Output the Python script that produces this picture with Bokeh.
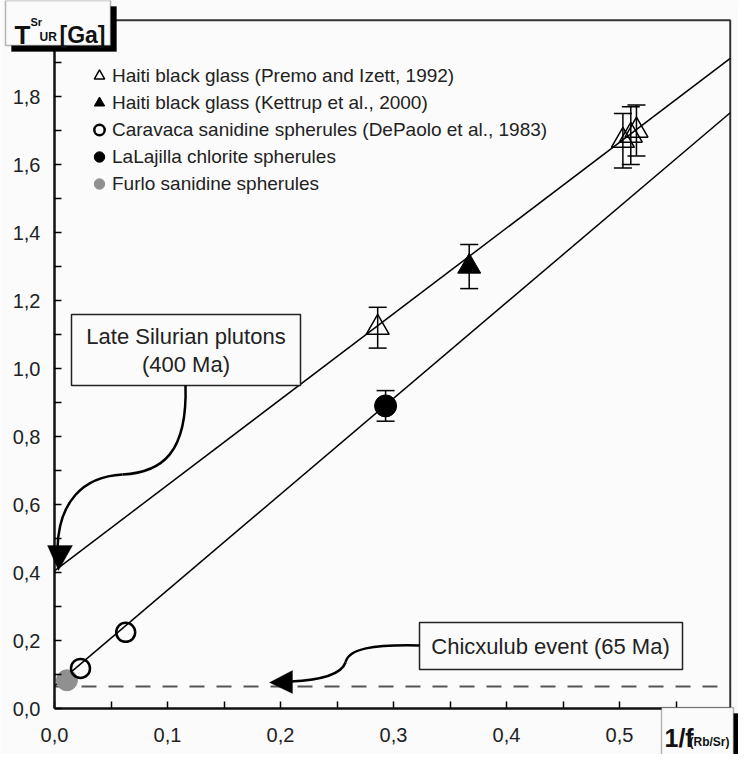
from bokeh.plotting import figure
from bokeh.models import (Range1d, FixedTicker, CustomJSTickFormatter, Whisker, TeeHead,
                          ColumnDataSource, BoxAnnotation, Label, PolyAnnotation,
                          Legend, LegendItem, LinearAxis)
from bokeh.core.properties import value
from bokeh.embed import file_html
from bokeh.resources import INLINE

# ---------------- data ----------------
premo_x = [0.286, 0.503, 0.510, 0.515]
premo_y = [1.12, 1.67, 1.685, 1.70]
premo_err = [0.06, 0.08, 0.085, 0.075]

kettrup_x = [0.367]
kettrup_y = [1.30]
kettrup_err = [0.065]

caravaca_x = [0.023, 0.063]
caravaca_y = [0.118, 0.224]

lalajilla_x = [0.293]
lalajilla_y = [0.89]
lalajilla_err = [0.045]

furlo_x = [0.011]
furlo_y = [0.083]

upper_intercept, upper_slope = 0.405, 2.52
lower_intercept, lower_slope = 0.066, 2.82
chicxulub_age = 0.065

x_max, y_max = 0.598, 2.024
x_ticks = [0.0, 0.1, 0.2, 0.3, 0.4, 0.5]
x_minor = [0.05, 0.15, 0.25, 0.35, 0.45, 0.55]
y_ticks = [0.0, 0.2, 0.4, 0.6, 0.8, 1.0, 1.2, 1.4, 1.6, 1.8]
y_minor = [0.1, 0.3, 0.5, 0.7, 0.9, 1.1, 1.3, 1.5, 1.7, 1.9]

legend_labels = ["Haiti black glass (Premo and Izett, 1992)",
                 "Haiti black glass (Kettrup et al., 2000)",
                 "Caravaca sanidine spherules (DePaolo et al., 1983)",
                 "LaLajilla chlorite spherules",
                 "Furlo sanidine spherules"]

FONT = "Liberation Sans"
TXT = "#222222"
BG = "#fbfbfb"

# helpers converting picture pixel positions of decorations to data coords
def dx(px):
    return (px - 62) / 1130.0

def dy(py):
    return (716 - py) / 340.0

p = figure(width=738, height=754, x_range=Range1d(dx(8), dx(746)), y_range=Range1d(dy(762), dy(8)),
           output_backend="svg", toolbar_location=None,
           x_axis_location=None, y_axis_location=None,
           min_border=0, min_border_left=0, min_border_right=0, min_border_top=0, min_border_bottom=0,
           background_fill_color=BG, border_fill_color=BG)
p.grid.visible = False
p.outline_line_color = None

fmt = CustomJSTickFormatter(code="return tick.toFixed(1).replace('.', ',')")
xa = LinearAxis(fixed_location=0, bounds=(0, x_max))
ya = LinearAxis(fixed_location=0, bounds=(0, y_max))
p.add_layout(xa, "below")
p.add_layout(ya, "left")
for ax, tk, mn in ((xa, x_ticks, x_minor), (ya, y_ticks, y_minor)):
    ax.ticker = FixedTicker(ticks=tk, minor_ticks=mn)
    ax.formatter = fmt
    ax.axis_line_width = 2.5
    ax.axis_line_color = "#111111"
    ax.major_tick_in = 7
    ax.major_tick_out = 0
    ax.minor_tick_in = 7
    ax.minor_tick_out = 0
    ax.major_tick_line_width = 1.5
    ax.minor_tick_line_width = 1.5
    ax.major_label_text_font = FONT
    ax.major_label_text_font_size = "20px"
    ax.major_label_text_color = TXT
xa.major_label_standoff = 19
ya.major_label_standoff = 14

# frame top and right border
p.line([dx(118), x_max, x_max], [y_max, y_max, dy(715)], line_color="#333333", line_width=2)

# isochron lines (from the y axis to the right border)
iso_x = [0, x_max]
p.line(iso_x, [upper_intercept + upper_slope * v for v in iso_x], line_color="black", line_width=1.5)
p.line(iso_x, [lower_intercept + lower_slope * v for v in iso_x], line_color="black", line_width=1.5)

# Chicxulub dashed line
p.line([0, x_max], [chicxulub_age, chicxulub_age], line_color="#555555", line_width=2, line_dash="15 12")

# error bars
def whisk(xs, ys, es):
    src = ColumnDataSource(dict(x=xs, lo=[a - b for a, b in zip(ys, es)], hi=[a + b for a, b in zip(ys, es)]))
    w = Whisker(base="x", lower="lo", upper="hi", source=src, line_width=1.5, line_color="black",
                upper_head=TeeHead(size=18, line_width=1.5), lower_head=TeeHead(size=18, line_width=1.5))
    p.add_layout(w)

whisk(premo_x, premo_y, premo_err)
whisk(kettrup_x, kettrup_y, kettrup_err)
whisk(lalajilla_x, lalajilla_y, lalajilla_err)

r_furlo = p.scatter(furlo_x, furlo_y, marker="circle", size=21, fill_color="#909090", line_color="#909090")
r_car = p.scatter(caravaca_x, caravaca_y, marker="circle", size=19, fill_color=None, line_color="black", line_width=2.5)
r_lal = p.scatter(lalajilla_x, lalajilla_y, marker="circle", size=22, fill_color="black", line_color="black")
r_ket = p.scatter(kettrup_x, kettrup_y, marker="triangle", size=23, fill_color="black", line_color="black")
r_pre = p.scatter(premo_x, premo_y, marker="triangle", size=23, fill_color=None, line_color="black", line_width=1.5)

legend = Legend(items=[LegendItem(label=legend_labels[0], renderers=[r_pre]),
                       LegendItem(label=legend_labels[1], renderers=[r_ket]),
                       LegendItem(label=legend_labels[2], renderers=[r_car]),
                       LegendItem(label=legend_labels[3], renderers=[r_lal]),
                       LegendItem(label=legend_labels[4], renderers=[r_furlo])],
                location=(86, 557), padding=0, spacing=0, glyph_width=26, glyph_height=27,
                label_height=27, label_standoff=0, border_line_color=None,
                background_fill_alpha=0, label_text_font=FONT, label_text_font_size="19px",
                label_text_color=TXT, margin=0)
p.add_layout(legend)

# annotation boxes inside the frame
p.quad(left=[dx(79)], right=[dx(308)], bottom=[dy(393)], top=[dy(322)], fill_color=BG, line_color="#222222", line_width=1.5)
p.quad(left=[dx(427)], right=[dx(690)], bottom=[dy(677)], top=[dy(630)], fill_color=BG, line_color="#222222", line_width=1.5)
p.text(x=[dx(193.5)], y=[dy(358)], text=["Late Silurian plutons\n(400 Ma)"], text_align="center",
       text_baseline="middle", text_font=value(FONT), text_font_size="22px", text_color=TXT,
       text_line_height=1.15)
p.text(x=[dx(558)], y=[dy(654)], text=["Chicxulub event (65 Ma)"], text_align="center",
       text_baseline="middle", text_font=value(FONT), text_font_size="22px", text_color=TXT)

# curved arrows
p.bezier(x0=[dx(193), dx(130)], y0=[dy(393), dy(482)], x1=[dx(130), dx(65)], y1=[dy(482), dy(556)],
         cx0=[dx(195), dx(90)], cy0=[dy(460), dy(484)], cx1=[dx(170), dx(66)], cy1=[dy(480), dy(510)],
         line_color="black", line_width=2.5)
p.bezier(x0=[dx(427), dx(353)], y0=[dy(653), dy(670)], x1=[dx(353), dx(298)], y1=[dy(670), dy(689)],
         cx0=[dx(380), dx(348)], cy0=[dy(652), dy(684)], cx1=[dx(356), dx(320)], cy1=[dy(656), dy(688)],
         line_color="black", line_width=2.5)
p.add_layout(PolyAnnotation(xs=[dx(55), dx(80), dx(66)], ys=[dy(553), dy(553), dy(578)],
                            fill_color="black", fill_alpha=1, line_color="black"))
p.add_layout(PolyAnnotation(xs=[dx(300), dx(300), dx(277)], ys=[dy(678), dy(701), dy(690)],
                            fill_color="black", fill_alpha=1, line_color="black"))

# axis title boxes (with shadow)
def title_box(l, t, r, b):
    p.add_layout(BoxAnnotation(left=dx(l + 6), right=dx(r + 6), top=dy(t + 6), bottom=dy(b + 6),
                               fill_color="black", fill_alpha=1, line_color="black"))
    p.add_layout(BoxAnnotation(left=dx(l), right=dx(r), top=dy(t), bottom=dy(b),
                               fill_color=BG, fill_alpha=1, line_color="#111111", line_width=1.5))

title_box(13, 8, 118, 53)
title_box(669, 715, 741, 766)

def lab(px, py, text, size):
    p.add_layout(Label(x=dx(px), y=dy(py), text=text, text_font=FONT, text_font_style="bold",
                       text_font_size=size, text_color="#111111", text_baseline="alphabetic"))

lab(22, 42, "T", "26px")
lab(38, 29, "Sr", "11px")
lab(47, 44, "UR", "12px")
lab(67, 42, "[Ga]", "23px")
lab(672, 745, "1/f", "25px")
lab(697, 749, "(Rb/Sr)", "12px")

open("out.html", "w").write(file_html(p, INLINE))
